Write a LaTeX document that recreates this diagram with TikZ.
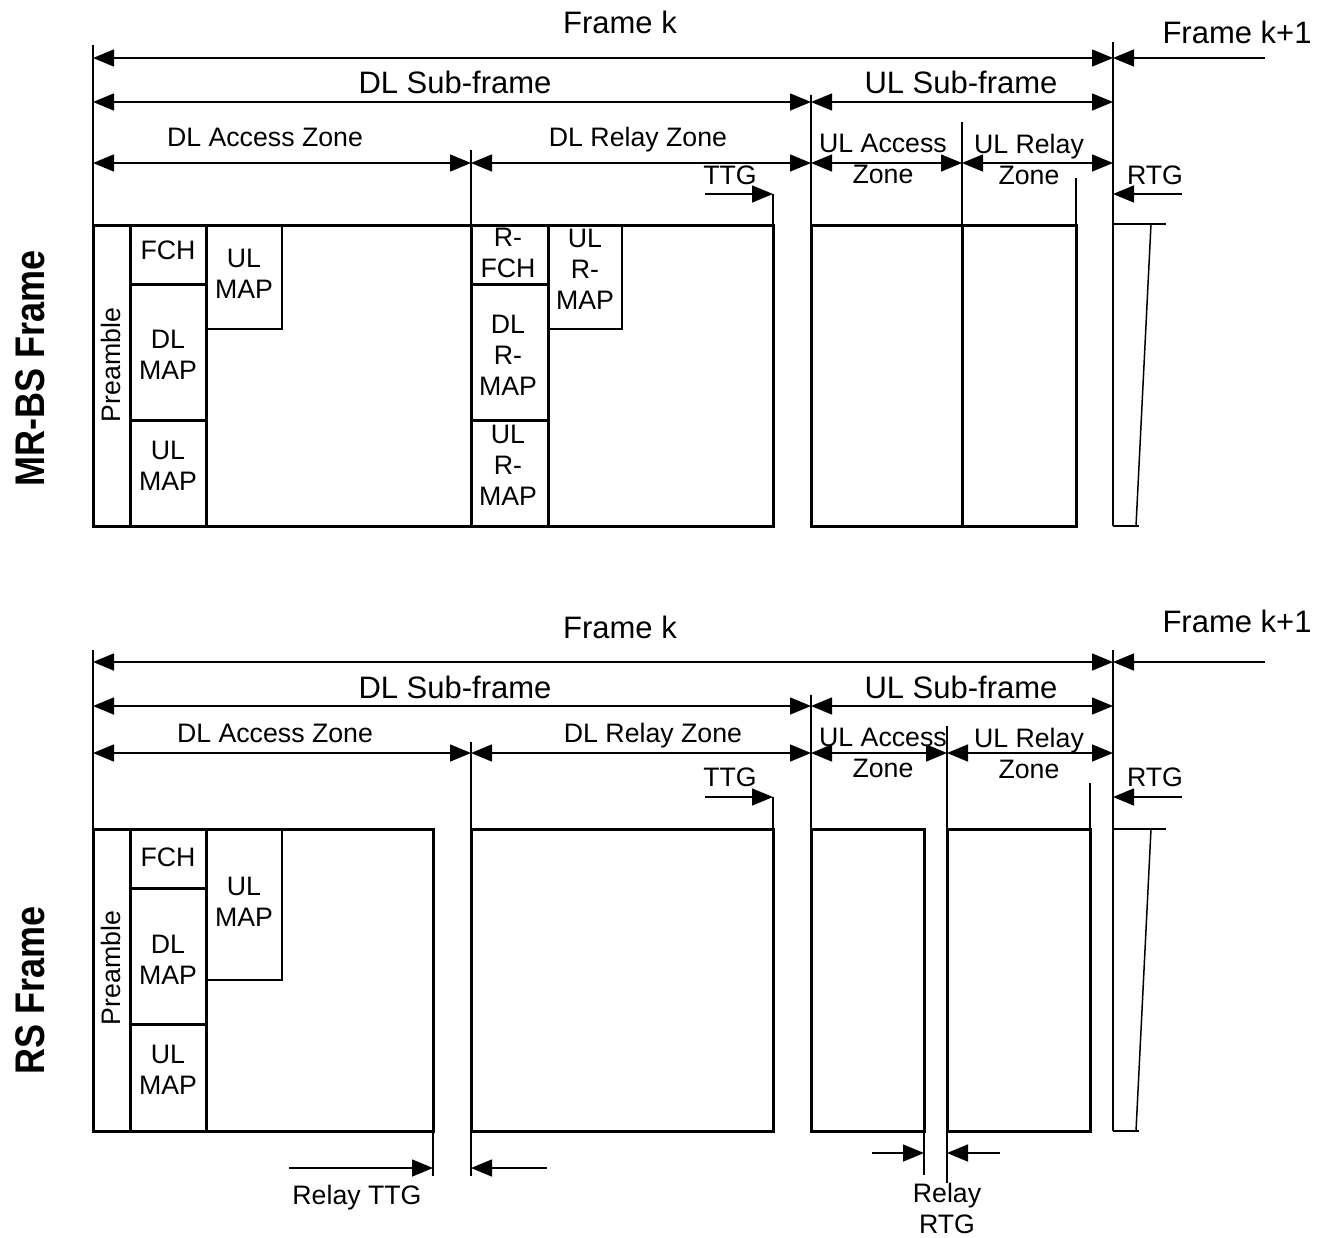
\documentclass[tikz,border=0pt]{standalone}
\usepackage{fontspec}
\setmainfont{Liberation Sans}
\usetikzlibrary{arrows.meta}
\tikzset{
  thinl/.style={line width=1.5pt},
  medl/.style={line width=2.5pt},
  boxl/.style={line width=3pt},
  dimboth/.style={line width=1.5pt,{Triangle[length=21pt,width=17pt]}-{Triangle[length=21pt,width=17pt]}},
  dimone/.style={line width=1.5pt,-{Triangle[length=21pt,width=17pt]}},
  lab/.style={font=\fontsize{26.7}{31}\selectfont,align=center,inner sep=0pt,text depth=0pt},
  biglab/.style={font=\fontsize{31}{36}\selectfont,inner sep=0pt,text depth=0pt},
  sidelab/.style={font=\fontsize{36}{40}\selectfont\bfseries,rotate=90,inner sep=0pt,text depth=0pt},
}
\begin{document}
\begin{tikzpicture}[x=1pt,y=-1pt]
\useasboundingbox (0,0) rectangle (1322,1237);

%================ TOP: MR-BS FRAME =================
\coordinate (a0) at (93,58);   \coordinate (a1) at (1113,58);  \coordinate (a2) at (1265,58);
\coordinate (b0) at (93,102);  \coordinate (b1) at (811,102);  \coordinate (b2) at (1113,102);
\coordinate (c0) at (93,163);  \coordinate (c1) at (471,163);  \coordinate (c2) at (811,163);
\coordinate (c3) at (962,163); \coordinate (c4) at (1113,163);
\coordinate (t0) at (705,194); \coordinate (t1) at (773,194);
\coordinate (r0) at (1182,194);\coordinate (r1) at (1113,194);

% extension lines
\draw[thinl] (93,45) -- (93,225);
\draw[thinl] (1113,42) -- (1113,526);
\draw[thinl] (811,95) -- (811,225);
\draw[thinl] (471,150) -- (471,225);
\draw[thinl] (962,122) -- (962,225);
\draw[thinl] (1076,178) -- (1076,225);
\draw[thinl] (773,194) -- (773,225);

% dimension arrows
\draw[dimboth] (a0) -- (a1);
\draw[dimone] (a2) -- (a1);
\draw[dimboth] (b0) -- (b1);
\draw[dimboth] (b1) -- (b2);
\draw[dimboth] (c0) -- (c1);
\draw[dimboth] (c1) -- (c2);
\draw[dimboth] (c2) -- (c3);
\draw[dimboth] (c3) -- (c4);
\draw[dimone] (t0) -- (t1);
\draw[dimone] (r0) -- (r1);

% labels
\node[biglab] (tfk) at (620,22) {Frame k};
\node[biglab] (tfk1) at (1237,32) {Frame k+1};
\node[biglab] (tdls) at (455,82) {DL Sub-frame};
\node[biglab] (tuls) at (961,82) {UL Sub-frame};
\node[lab] (tdla) at (265,137) {DL Access Zone};
\node[lab] (tdlr) at (638,137) {DL Relay Zone};
\node[lab] (tula) at (883,159) {UL Access\\Zone};
\node[lab] (tulr) at (1029,159) {UL Relay\\Zone};
\node[lab] (tttg) at (730,175) {TTG};
\node[lab] (trtg) at (1155,175) {RTG};

% frame boxes
\draw[boxl] (93,225) rectangle (773,526);
\draw[boxl] (130,225) -- (130,526);
\draw[boxl] (206,225) -- (206,526);
\draw[boxl] (130,284) -- (206,284);
\draw[boxl] (130,420) -- (206,420);
\draw[medl] (206,329) -- (282,329) -- (282,225);
\draw[boxl] (471,225) -- (471,526);
\draw[boxl] (548,225) -- (548,526);
\draw[boxl] (471,284) -- (548,284);
\draw[boxl] (471,420) -- (548,420);
\draw[medl] (548,329) -- (622,329) -- (622,225);
\draw[boxl] (811,225) rectangle (962,526);
\draw[boxl] (962,225) rectangle (1076,526);
\draw[thinl] (1113,224) -- (1166,224);
\draw[thinl] (1151,224) -- (1136,526);
\draw[thinl] (1113,526) -- (1139,526);

\node[lab,rotate=90] (tpre) at (111,365) {Preamble};
\node[lab] (tfch) at (168,250) {FCH};
\node[lab] (tdlmap) at (168,355) {DL\\MAP};
\node[lab] (tulmap) at (168,466) {UL\\MAP};
\node[lab] (tulmap2) at (244,274) {UL\\MAP};
\node[lab] (trfch) at (508,253) {R-\\FCH};
\node[lab] (tulrmap2) at (585,269) {UL\\R-\\MAP};
\node[lab] (tdlrmap) at (508,355) {DL\\R-\\MAP};
\node[lab] (tulrmap) at (508,465) {UL\\R-\\MAP};
\node[sidelab] (tside) at (30,368) {\scalebox{1}[1.15]{MR-BS Frame}};

%================ BOTTOM: RS FRAME =================
\coordinate (A0) at (93,662);   \coordinate (A1) at (1113,662);  \coordinate (A2) at (1265,662);
\coordinate (B0) at (93,706);   \coordinate (B1) at (811,706);   \coordinate (B2) at (1113,706);
\coordinate (C0) at (93,753);   \coordinate (C1) at (471,753);   \coordinate (C2) at (811,753);
\coordinate (C3) at (947,753);  \coordinate (C4) at (1113,753);
\coordinate (T0) at (705,797);  \coordinate (T1) at (773,797);
\coordinate (R0) at (1182,797); \coordinate (R1) at (1113,797);
\coordinate (G0) at (289,1168); \coordinate (G1) at (433,1168);
\coordinate (G2) at (547,1168); \coordinate (G3) at (471,1168);
\coordinate (H0) at (872,1153); \coordinate (H1) at (924,1153);
\coordinate (H2) at (1000,1153);\coordinate (H3) at (947,1153);

\draw[thinl] (93,650) -- (93,829);
\draw[thinl] (1113,650) -- (1113,1131);
\draw[thinl] (811,695) -- (811,829);
\draw[thinl] (471,742) -- (471,1176);
\draw[thinl] (433,1131) -- (433,1176);
\draw[thinl] (947,726) -- (947,1183);
\draw[thinl] (924,1131) -- (924,1175);
\draw[thinl] (773,797) -- (773,829);
\draw[thinl] (1090,783) -- (1090,829);

\draw[dimboth] (A0) -- (A1);
\draw[dimone] (A2) -- (A1);
\draw[dimboth] (B0) -- (B1);
\draw[dimboth] (B1) -- (B2);
\draw[dimboth] (C0) -- (C1);
\draw[dimboth] (C1) -- (C2);
\draw[dimboth] (C2) -- (C3);
\draw[dimboth] (C3) -- (C4);
\draw[dimone] (T0) -- (T1);
\draw[dimone] (R0) -- (R1);
\draw[dimone] (G0) -- (G1);
\draw[dimone] (G2) -- (G3);
\draw[dimone] (H0) -- (H1);
\draw[dimone] (H2) -- (H3);

\node[biglab] (bfk) at (620,627) {Frame k};
\node[biglab] (bfk1) at (1237,621) {Frame k+1};
\node[biglab] (bdls) at (455,687) {DL Sub-frame};
\node[biglab] (buls) at (961,687) {UL Sub-frame};
\node[lab] (bdla) at (275,733) {DL Access Zone};
\node[lab] (bdlr) at (653,733) {DL Relay Zone};
\node[lab] (bula) at (883,753) {UL Access\\Zone};
\node[lab] (bulr) at (1029,753) {UL Relay\\Zone};
\node[lab] (bttg) at (730,777) {TTG};
\node[lab] (brtg) at (1155,777) {RTG};
\node[lab] (brttg) at (357,1195) {Relay TTG};
\node[lab] (brrtg) at (947,1208) {Relay\\RTG};

\draw[boxl] (93,829) rectangle (433,1131);
\draw[boxl] (130,829) -- (130,1131);
\draw[boxl] (206,829) -- (206,1131);
\draw[boxl] (130,888) -- (206,888);
\draw[boxl] (130,1024) -- (206,1024);
\draw[medl] (206,980) -- (282,980) -- (282,829);
\draw[boxl] (471,829) rectangle (773,1131);
\draw[boxl] (811,829) rectangle (924,1131);
\draw[boxl] (947,829) rectangle (1090,1131);
\draw[thinl] (1113,829) -- (1166,829);
\draw[thinl] (1151,829) -- (1136,1131);
\draw[thinl] (1113,1131) -- (1139,1131);

\node[lab,rotate=90] (bpre) at (111,968) {Preamble};
\node[lab] (bfch) at (168,857) {FCH};
\node[lab] (bulmap2) at (244,902) {UL\\MAP};
\node[lab] (bdlmap) at (168,960) {DL\\MAP};
\node[lab] (bulmap) at (168,1070) {UL\\MAP};
\node[sidelab] (bside) at (30,990) {\scalebox{1}[1.15]{RS Frame}};
\end{tikzpicture}
\end{document}
